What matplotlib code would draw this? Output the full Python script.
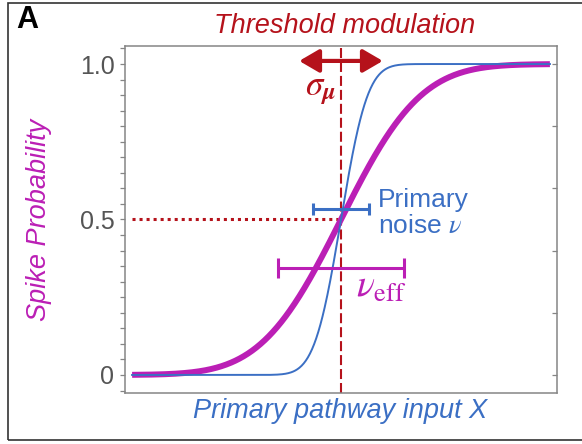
import math
import matplotlib
matplotlib.use('Agg')
import matplotlib.pyplot as plt
from matplotlib.patches import Rectangle
from matplotlib.ticker import MultipleLocator, FixedLocator
import numpy as np

plt.rcParams['font.family'] = ['Liberation Sans', 'DejaVu Sans']
plt.rcParams['mathtext.fontset'] = 'stix'

# model parameters (input units)
x_min, x_max = -5.0, 5.0
threshold = 0.0
nu = 0.5           # primary noise width
nu_eff = 1.5       # effective noise width
sigma_mu = 1.0     # threshold modulation spread

# width bars: level and half width
nu_bar_y, nu_bar_half = 0.534, 0.67
nu_eff_bar_y, nu_eff_bar_half = 0.344, 1.5
half_level = 0.5

left_ticks = [0, 0.5, 1.0]
left_labels = ['0', '0.5', '1.0']
right_ticks = [0, 0.2, 0.4, 0.6, 0.8, 1.0]

red = '#b5121b'
blue = '#3b6fc4'
magenta = '#bb1fb5'
grey = '#858585'

erf = np.vectorize(math.erf)


def cdf(x, mu, s):
    return 0.5 * (1 + erf((x - mu) / (s * np.sqrt(2))))


x = np.linspace(x_min, x_max, 600)

fig = plt.figure(figsize=(5.82, 4.44), dpi=100)
ax = fig.add_axes([125 / 582, 51 / 444, 432 / 582, 347 / 444])

ax.plot(x, cdf(x, threshold, nu_eff), color=magenta, lw=4.3, solid_capstyle='butt', zorder=2)
ax.plot(x, cdf(x, threshold, nu), color=blue, lw=1.4, zorder=3)

ax.axvline(threshold, color=red, lw=1.5, ls=(0, (4.8, 1.9)), zorder=1)
ax.plot([x_min, threshold - 0.08], [half_level, half_level], color=red, lw=2.2,
        ls=(0, (1, 1.3)), zorder=1)

ax.errorbar(threshold, nu_bar_y, xerr=nu_bar_half, color=blue, lw=2.2, capsize=4.3,
            capthick=2.2, zorder=4)
ax.errorbar(threshold, nu_eff_bar_y, xerr=nu_eff_bar_half, color=magenta, lw=2.2,
            capsize=7.5, capthick=2.2, zorder=4)

ax.annotate('', xy=(threshold + sigma_mu, 1.01), xytext=(threshold - sigma_mu, 1.01),
            arrowprops=dict(arrowstyle='<|-|>,head_length=0.6,head_width=0.35',
                            mutation_scale=20, lw=3, color=red,
                            shrinkA=0, shrinkB=0), zorder=5)

ax.text(-0.5, 0.915, r'$\sigma_{\boldsymbol{\mu}}$', color=red, fontsize=25,
        ha='center', va='center')
ax.text(0.88, 0.540, 'Primary', color=blue, fontsize=19, ha='left', va='baseline')
ax.text(0.88, 0.457, r'noise $\nu$', color=blue, fontsize=19, ha='left', va='baseline')
ax.text(0.36, 0.25, r'$\nu_{\rm eff}$', color=magenta, fontsize=27, ha='left', va='baseline')

ax.set_xlim(-5.17, 5.17)
ax.set_ylim(-0.058, 1.058)

for side in ax.spines.values():
    side.set_color(grey)
    side.set_linewidth(1.1)

ax.set_xticks([])
ax.yaxis.set_major_locator(FixedLocator(left_ticks))
ax.set_yticklabels(left_labels)
ax.yaxis.set_minor_locator(MultipleLocator(0.05))
ax.tick_params(axis='y', which='both', direction='out', length=3.6, width=0.9,
               color=grey, labelsize=18, labelcolor='#555555', pad=4)

# inward ticks on the right side
ax2 = ax.twinx()
ax2.set_ylim(ax.get_ylim())
ax2.set_yticks(right_ticks)
ax2.tick_params(axis='y', direction='in', length=3.6, width=0.9, color=grey,
                labelright=False)
for side in ax2.spines.values():
    side.set_visible(False)

ax.set_ylabel('Spike Probability', color=magenta, fontsize=19.5, style='italic')
ax.yaxis.set_label_coords(-0.169, 0.5)
ax.set_xlabel('Primary pathway input X', color=blue, fontsize=19.5, style='italic')
ax.xaxis.label.set_va('center')
ax.xaxis.set_label_coords(0.498, -0.052)

ax.text(0.509, 1.058, 'Threshold modulation', transform=ax.transAxes, color=red,
        fontsize=19.5, style='italic', ha='center', va='center')

fig.text(27 / 582, 1 - 20 / 444, 'A', fontsize=22, fontweight='bold', ha='center', va='center')
fig.patches.append(Rectangle((8 / 582, 4 / 444), 1.2, 437 / 444, transform=fig.transFigure,
                             fill=False, lw=1.2, edgecolor='#333333', clip_on=False))

fig.savefig('out.png', dpi=100)
